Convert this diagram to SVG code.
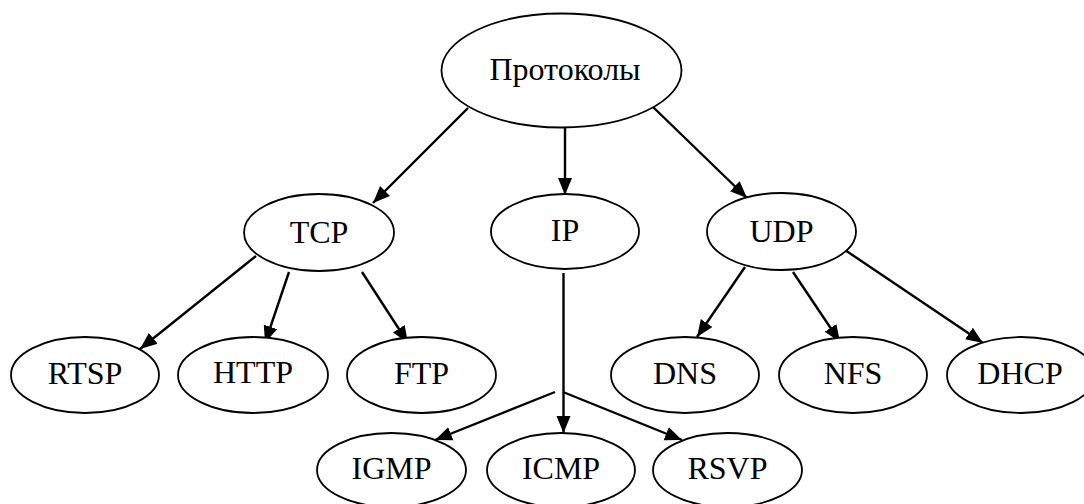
<svg xmlns="http://www.w3.org/2000/svg" width="1084" height="504" viewBox="0 0 1084 504">
<style>
.n ellipse{fill:#fff;stroke:#000;stroke-width:1.8}
.n text{font-family:"Liberation Serif","Times New Roman",serif;font-size:32px;fill:#000;text-anchor:middle}
.c line{stroke:#000;stroke-width:2.4}
.c .a{marker-end:url(#ah)}
</style>
<defs>
<marker id="ah" markerUnits="userSpaceOnUse" markerWidth="18" markerHeight="15" refX="17" refY="7" orient="auto" viewBox="0 0 18 14">
<path d="M0,0 L17,7 L0,14 Z" fill="#000"/>
</marker>
</defs>
<rect width="1084" height="504" fill="#fff"/>
<g id="connectors" class="c">
<line class="a" x1="468" y1="108" x2="373" y2="203"/>
<line class="a" x1="565" y1="128" x2="565" y2="195"/>
<line class="a" x1="653" y1="107" x2="747" y2="198"/>
<line class="a" x1="256" y1="256" x2="140" y2="349"/>
<line class="a" x1="289" y1="272" x2="265" y2="343"/>
<line class="a" x1="362" y1="272" x2="408" y2="343"/>
<line class="a" x1="563.5" y1="273" x2="563.5" y2="433"/>
<line class="a" x1="555" y1="392" x2="435" y2="440"/>
<line class="a" x1="563" y1="392" x2="682" y2="440"/>
<line class="a" x1="745" y1="267" x2="697" y2="337"/>
<line class="a" x1="793" y1="272" x2="840" y2="342"/>
<line class="a" x1="842" y1="248" x2="983" y2="343"/>
</g>
<g id="protokoly" class="n"><ellipse cx="561.5" cy="70.5" rx="120" ry="57"/><text x="565" y="80">Протоколы</text></g>
<g id="tcp" class="n"><ellipse cx="319" cy="232.5" rx="75" ry="38.5"/><text x="319" y="242.5">TCP</text></g>
<g id="ip" class="n"><ellipse cx="565" cy="231.5" rx="74" ry="37.5"/><text x="565" y="241">IP</text></g>
<g id="udp" class="n"><ellipse cx="781.5" cy="231.5" rx="74.5" ry="38.5"/><text x="781.5" y="241.5">UDP</text></g>
<g id="rtsp" class="n"><ellipse cx="85" cy="375" rx="74" ry="38"/><text x="85" y="384">RTSP</text></g>
<g id="http" class="n"><ellipse cx="253" cy="375" rx="75" ry="38"/><text x="253" y="383">HTTP</text></g>
<g id="ftp" class="n"><ellipse cx="421.5" cy="375" rx="74.5" ry="38"/><text x="421.5" y="384">FTP</text></g>
<g id="dns" class="n"><ellipse cx="685" cy="375" rx="74" ry="38"/><text x="685" y="384">DNS</text></g>
<g id="nfs" class="n"><ellipse cx="853" cy="375" rx="74" ry="38"/><text x="853" y="384">NFS</text></g>
<g id="dhcp" class="n"><ellipse cx="1021" cy="375" rx="74" ry="38"/><text x="1020" y="384">DHCP</text></g>
<g id="igmp" class="n"><ellipse cx="391.5" cy="470" rx="74.5" ry="37"/><text x="391.5" y="479">IGMP</text></g>
<g id="icmp" class="n"><ellipse cx="561" cy="470" rx="74" ry="37"/><text x="561" y="479">ICMP</text></g>
<g id="rsvp" class="n"><ellipse cx="727.5" cy="470" rx="74.5" ry="37"/><text x="727.5" y="479">RSVP</text></g>
</svg>
